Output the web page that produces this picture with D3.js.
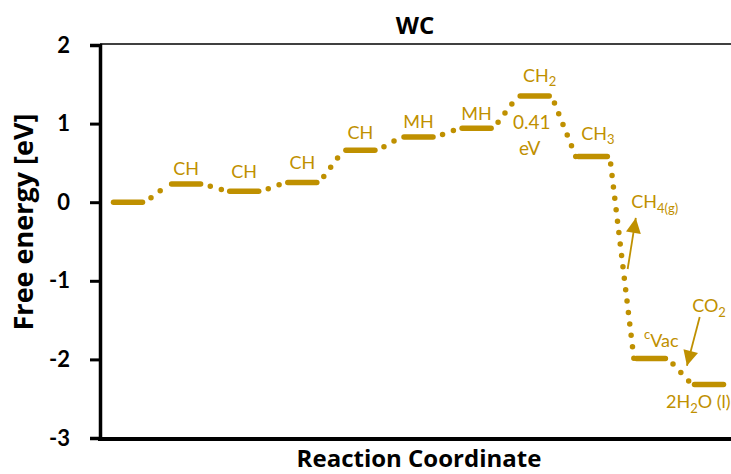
<!DOCTYPE html>
<html>
<head>
<meta charset="utf-8">
<script src="https://cdn.jsdelivr.net/npm/d3@7"></script>
<style>
  html, body { margin: 0; padding: 0; background: #fff; }
  svg text { font-family: Lato, sans-serif; }
  svg text.title { font-family: "Open Sans", sans-serif; font-weight: bold; }
</style>
</head>
<body>
<div id="chart"></div>
<script>
// free energy of each intermediate, left to right
const energies = [0, 0.23, 0.14, 0.25, 0.66, 0.83, 0.94, 1.35, 0.58, -1.99, -2.32];
// species above each level: [text, subscript]
const species = [
  ["", ""], ["CH", ""], ["CH", ""], ["CH", ""], ["CH", ""],
  ["MH", ""], ["MH", ""], ["CH", "2"], ["CH", "3"], ["", ""], ["", ""]
];
const yTicks = [-3, -2, -1, 0, 1, 2];
const barrierFrom = 6, barrierTo = 7;

const W = 731, H = 474;
const gold = "#BF9000";
const margin = { top: 44, right: 0, bottom: 36, left: 100 };

const svg = d3.select("#chart").append("svg")
  .attr("width", W).attr("height", H);

// --- scales ---
const x = d3.scaleLinear().domain([0, energies.length - 1]).range([128, 709]);
const y = d3.scaleLinear().domain([-3, 2]).range([H - margin.bottom, margin.top + 1]);
const half = 17; // half width of each level bar

// --- frame / axes ---
svg.append("line")
  .attr("x1", margin.left).attr("x2", W)
  .attr("y1", y(2) - 1).attr("y2", y(2) - 1)
  .attr("stroke", "#000").attr("stroke-width", 1.5);

const yAxis = svg.append("g")
  .attr("transform", `translate(${margin.left},0)`)
  .call(d3.axisLeft(y).tickValues(yTicks).tickSize(10).tickPadding(20)
    .tickFormat(d => String(d)));
yAxis.select(".domain").attr("stroke-width", 3.5);
yAxis.selectAll(".tick line").attr("stroke-width", 3);
yAxis.selectAll(".tick text")
  .attr("font-size", 22).attr("font-weight", "bold").attr("fill", "#000");

svg.append("line")
  .attr("x1", margin.left - 2).attr("x2", W)
  .attr("y1", y(-3) + 1).attr("y2", y(-3) + 1)
  .attr("stroke", "#000").attr("stroke-width", 4);

svg.append("text")
  .attr("class", "title")
  .attr("transform", "translate(33,222) rotate(-90)")
  .attr("text-anchor", "middle")
  .attr("font-size", 27)
  .text("Free energy [eV]");

svg.append("text")
  .attr("class", "title")
  .attr("x", 419).attr("y", 467)
  .attr("text-anchor", "middle")
  .attr("font-size", 24)
  .text("Reaction Coordinate");

svg.append("text")
  .attr("class", "title")
  .attr("x", 415).attr("y", 34)
  .attr("text-anchor", "middle")
  .attr("font-size", 24)
  .text("WC");

// --- connectors (dotted) ---
const links = d3.pairs(energies.map((e, i) => ({ i, e })));
svg.append("g").selectAll("line")
  .data(links)
  .join("line")
  .attr("x1", d => x(d[0].i) + half).attr("y1", d => y(d[0].e))
  .attr("x2", d => x(d[1].i) - half).attr("y2", d => y(d[1].e))
  .attr("stroke", gold).attr("stroke-width", 5.5)
  .attr("stroke-linecap", "round")
  .attr("stroke-dasharray", "0 11.5")
  .attr("stroke-dashoffset", -7.5);

// --- level bars ---
svg.append("g").selectAll("line")
  .data(energies)
  .join("line")
  .attr("x1", (d, i) => x(i) - half + 2.5).attr("x2", (d, i) => x(i) + half - 2.5)
  .attr("y1", d => y(d)).attr("y2", d => y(d))
  .attr("stroke", gold).attr("stroke-width", 5.5)
  .attr("stroke-linecap", "round");

// --- species labels ---
const labelLift = [0, 9, 13, 14, 11, 9, 8, 14, 17, 0, 0];
const lab = svg.append("g").selectAll("text")
  .data(species.map((s, i) => ({ s, i })).filter(d => d.s[0]))
  .join("text")
  .attr("x", d => x(d.i) + (d.s[1] ? 5 : 0))
  .attr("y", d => y(energies[d.i]) - labelLift[d.i])
  .attr("text-anchor", "middle")
  .attr("font-size", 18).attr("fill", gold);
lab.append("tspan").text(d => d.s[0]);
lab.filter(d => d.s[1]).append("tspan")
  .attr("font-size", 13).attr("dy", 4).text(d => d.s[1]);

// --- barrier annotation ---
const barrier = energies[barrierTo] - energies[barrierFrom];
svg.append("text")
  .attr("x", x(barrierTo) - 3).attr("y", y(energies[barrierFrom]) + 1)
  .attr("text-anchor", "middle").attr("font-size", 19).attr("fill", gold)
  .text(barrier.toFixed(2));
svg.append("text")
  .attr("x", x(barrierTo) - 5).attr("y", y(energies[barrierFrom]) + 27)
  .attr("text-anchor", "middle").attr("font-size", 19).attr("fill", gold)
  .text("eV");

// --- side products with arrows ---
svg.append("defs").append("marker")
  .attr("id", "head").attr("markerUnits", "userSpaceOnUse")
  .attr("viewBox", "0 0 10 10").attr("refX", 10).attr("refY", 5)
  .attr("markerWidth", 16).attr("markerHeight", 15).attr("orient", "auto")
  .append("path").attr("d", "M0,0L10,5L0,10Z").attr("fill", gold);

const arrows = [
  { from: [8.6, -0.85], to: [8.74, -0.2] },
  { from: [9.84, -1.46], to: [9.62, -2.08] }
];
svg.append("g").selectAll("line")
  .data(arrows)
  .join("line")
  .attr("x1", d => x(d.from[0])).attr("y1", d => y(d.from[1]))
  .attr("x2", d => x(d.to[0])).attr("y2", d => y(d.to[1]))
  .attr("stroke", gold).attr("stroke-width", 1.8)
  .attr("marker-end", "url(#head)");

const notes = [
  { at: [8.66, -0.07], parts: [["CH", ""], ["4(g)", "sub"]] },
  { at: [8.88, -1.84], parts: [["c", "sup"], ["Vac", ""]] },
  { at: [9.71, -1.40], parts: [["CO", ""], ["2", "sub"]] },
  { at: [9.26, -2.62], parts: [["2H", ""], ["2", "sub"], ["O (l)", "back"]] }
];
const nt = svg.append("g").selectAll("text")
  .data(notes)
  .join("text")
  .attr("x", d => x(d.at[0])).attr("y", d => y(d.at[1]))
  .attr("font-size", 18).attr("fill", gold);
nt.each(function(d) {
  const t = d3.select(this);
  d.parts.forEach(([txt, kind]) => {
    const ts = t.append("tspan").text(txt);
    if (kind === "sub") ts.attr("font-size", 13).attr("dy", 5);
    if (kind === "sup") ts.attr("font-size", 13).attr("dy", -8);
    if (kind === "back") ts.attr("dy", -5);
    if (kind === "" && txt === "Vac") ts.attr("dy", 8);
  });
});
</script>
</body>
</html>
